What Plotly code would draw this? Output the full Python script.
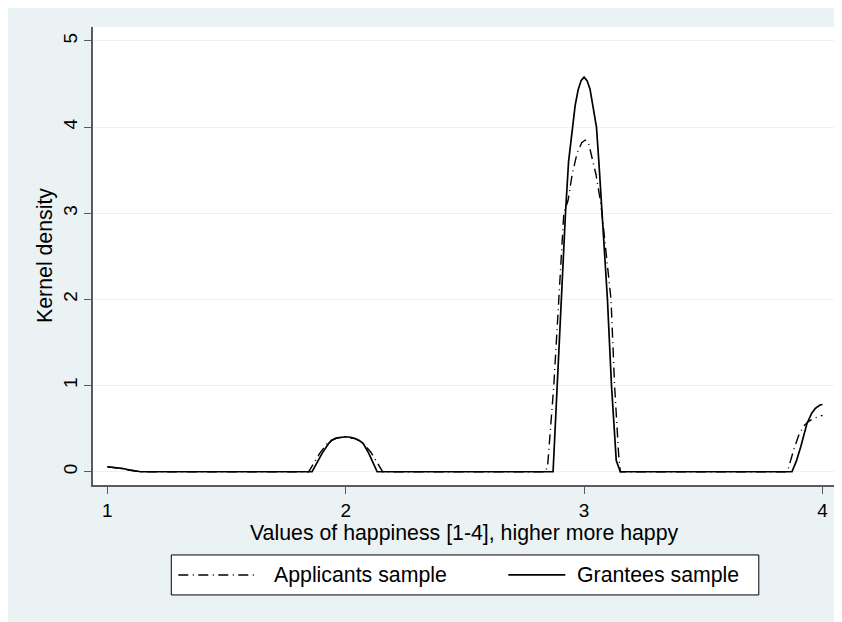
import plotly.graph_objects as go

# ---- data ----
grantees_x = [1.0, 1.03, 1.06, 1.09, 1.12, 1.14,
              1.859, 1.88, 1.901, 1.929, 1.94, 1.96, 1.98, 1.999, 2.02, 2.04, 2.057, 2.073,
              2.097, 2.115, 2.132,
              2.870, 2.887, 2.905, 2.922, 2.935, 2.95, 2.9625, 2.975, 2.9875, 3.0, 3.0125,
              3.025, 3.04, 3.052, 3.062, 3.075, 3.098, 3.115, 3.135, 3.152,
              3.872, 3.89, 3.909, 3.935, 3.955, 3.97, 3.99, 4.0]
grantees_y = [0.058, 0.052, 0.040, 0.022, 0.006, 0.0,
              0.0, 0.11, 0.213, 0.33, 0.362, 0.39, 0.402, 0.406, 0.400, 0.385, 0.362, 0.33,
              0.213, 0.11, 0.0,
              0.0, 1.0, 2.0, 3.0, 3.6, 4.0, 4.25, 4.43, 4.54, 4.58, 4.54,
              4.44, 4.22, 4.0, 3.6, 3.0, 2.0, 1.0, 0.13, 0.0,
              0.0, 0.12, 0.29, 0.56, 0.68, 0.735, 0.775, 0.78]

applicants_x = [1.0, 1.03, 1.06, 1.09, 1.12, 1.14,
                1.845, 1.865, 1.891, 1.92, 1.935, 1.955, 1.975, 1.995, 2.02, 2.04, 2.06,
                2.075, 2.105, 2.138, 2.155,
                2.84, 2.848, 2.873, 2.894, 2.915, 2.933, 2.95, 2.97, 2.98, 2.99, 3.005, 3.015,
                3.02, 3.029, 3.04, 3.05, 3.068, 3.075, 3.113, 3.128, 3.145, 3.152,
                3.85, 3.856, 3.879, 3.90, 3.921, 3.94, 3.963, 3.98, 4.0]
applicants_y = [0.056, 0.050, 0.038, 0.020, 0.005, 0.0,
                0.0, 0.10, 0.213, 0.32, 0.355, 0.385, 0.398, 0.402, 0.397, 0.385, 0.355,
                0.32, 0.23, 0.078, 0.0,
                0.0, 0.1, 1.0, 2.0, 3.0, 3.15, 3.45, 3.69, 3.76, 3.82, 3.85, 3.83,
                3.80, 3.69, 3.58, 3.45, 3.15, 3.0, 2.0, 1.0, 0.2, 0.0,
                0.0, 0.03, 0.25, 0.42, 0.53, 0.58, 0.62, 0.64, 0.655]

x_ticks = [1, 2, 3, 4]
y_ticks = [0, 1, 2, 3, 4, 5]
series_names = ["Applicants sample", "Grantees sample"]
x_title = "Values of happiness [1-4], higher more happy"
y_title = "Kernel density"

FONT = "Liberation Sans, Arial, Helvetica, sans-serif"
BG = "#EAF2F3"
DASHDOT = "10px,4.5px,1px,4.5px"
TXT = 21.3

# page offset (body margin) and figure size
OFF = 8
W, H = 842 - OFF, 622 - OFF
# plot area in page pixels
L, R, T, B = 92.7, 836.7, 26.7, 485.0


def px(xp):
    return (xp - L) / (R - L)


def py(yp):
    return (B - yp) / (B - T)


fig = go.Figure()
fig.add_trace(go.Scatter(x=applicants_x, y=applicants_y, mode="lines",
                         name=series_names[0], showlegend=False,
                         line=dict(color="black", width=1.4, dash=DASHDOT)))
fig.add_trace(go.Scatter(x=grantees_x, y=grantees_y, mode="lines",
                         name=series_names[1], showlegend=False,
                         line=dict(color="black", width=1.7)))

axis_common = dict(showline=True, linecolor="#5a5a5a", linewidth=1.5,
                   ticks="outside", ticklen=7, tickwidth=1.2, tickcolor="#5a5a5a",
                   zeroline=False, tickfont=dict(family=FONT, size=19, color="black"))

fig.update_xaxes(range=[0.94, 4.061], tickvals=x_ticks, showgrid=False,
                 ticklabelstandoff=0, **axis_common)
fig.update_yaxes(range=[-0.154, 5.162], tickvals=y_ticks, showgrid=True,
                 gridcolor=BG, gridwidth=1.2, tickangle=-90,
                 ticklabelstandoff=0, **axis_common)

shapes = [
    # legend box
    dict(type="rect", xref="paper", yref="paper", x0=px(171), x1=px(758.5), y0=py(595), y1=py(555),
         fillcolor="white", line=dict(color="black", width=1)),
    dict(type="line", xref="paper", yref="paper", x0=px(178), x1=px(258), y0=py(575), y1=py(575),
         line=dict(color="black", width=1.4, dash=DASHDOT)),
    dict(type="line", xref="paper", yref="paper", x0=px(508), x1=px(565), y0=py(575), y1=py(575),
         line=dict(color="black", width=1.7)),
]

annotations = [
    dict(text=x_title, xref="paper", yref="paper", x=px(464), y=py(533),
         xanchor="center", yanchor="middle", showarrow=False,
         font=dict(family=FONT, size=TXT, color="black")),
    dict(text=y_title, xref="paper", yref="paper", x=px(44), y=py(255.5),
         xanchor="center", yanchor="middle", showarrow=False, textangle=-90,
         font=dict(family=FONT, size=TXT, color="black")),
    dict(text=series_names[0], xref="paper", yref="paper", x=px(272), y=py(575),
         xanchor="left", yanchor="middle", showarrow=False,
         font=dict(family=FONT, size=TXT, color="black")),
    dict(text=series_names[1], xref="paper", yref="paper", x=px(575), y=py(575),
         xanchor="left", yanchor="middle", showarrow=False,
         font=dict(family=FONT, size=TXT, color="black")),
]

fig.update_layout(width=W, height=H, autosize=False,
                  margin=dict(l=L - OFF, r=W + OFF - R, t=T - OFF, b=H + OFF - B, pad=0),
                  paper_bgcolor=BG, plot_bgcolor="white",
                  shapes=shapes, annotations=annotations, showlegend=False,
                  font=dict(family=FONT, color="black"))

fig.write_html("out.html")
